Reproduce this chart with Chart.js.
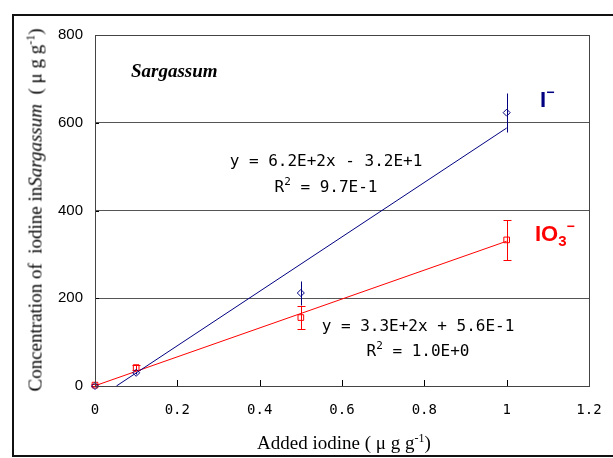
<!DOCTYPE html>
<html>
<head>
<meta charset="utf-8">
<script src="https://cdn.jsdelivr.net/npm/chart.js@4/dist/chart.umd.min.js"></script>
<style>
  html, body { margin: 0; padding: 0; background: #fff; }
  #wrap { position: relative; width: 613px; height: 458px; overflow: hidden; background: #fff; }
  #frame { position: absolute; left: 12px; top: 14px; width: 640px; height: 439px; border: 2px solid #111; }
  #box { position: absolute; left: 0; top: 0; width: 613px; height: 458px; }
  .t { position: absolute; white-space: nowrap; line-height: 1; color: #000; }
  .serif { font-family: 'Liberation Serif', 'DejaVu Serif', serif; font-size: 19px; }
  .eq { font-family: 'DejaVu Sans Mono', monospace; font-size: 16px; text-align: center; transform: translateX(-50%); }
  .eq .s { position: relative; top: -7px; font-size: 11px; }
  .ion { font-family: 'Liberation Sans', Arial, sans-serif; font-weight: bold; font-size: 22px; }
</style>
</head>
<body>
<div id="wrap">
  <div id="frame"></div>
  <div id="box"><canvas id="cIodine"></canvas></div>

  <div class="t serif" style="left:131px;top:61px;font-weight:bold;font-style:italic">Sargassum</div>

  <div class="t eq" style="left:326px;top:148px;line-height:26px">y = 6.2E+2x - 3.2E+1<br>R<span class="s">2</span> = 9.7E-1</div>
  <div class="t eq" style="left:418px;top:313px;line-height:25px">y = 3.3E+2x + 5.6E-1<br>R<span class="s">2</span> = 1.0E+0</div>

  <div class="t ion" style="left:540px;top:89px;color:#000080">I<span style="position:relative;top:-10px;font-size:14px">−</span></div>
  <div class="t ion" style="left:535px;top:223px;color:#ff0000">IO<span style="position:relative;top:5px;font-size:15px">3</span><span style="position:relative;top:-10px;font-size:14px">−</span></div>

  <div class="t serif" style="left:257px;top:433px">Added iodine ( μ g g<span style="position:relative;top:-7px;font-size:12px">-1</span>)</div>
  <div class="t serif" style="left:35px;top:210px;transform:translate(-50%,-50%) rotate(-90deg)">Concentration of&nbsp; iodine in<i>Sargassum</i>&nbsp; ( μ g g<span style="position:relative;top:-7px;font-size:12px">-1</span>)</div>
</div>

<script>
// added iodine (ug/g) and measured concentrations
const addedIodine = [0, 0.1, 0.5, 1];
const iodideConc  = [0, 30, 212, 623];
const iodideErr   = [0, 3, 27, 44];
const iodateConc  = [2, 42, 156, 333];
const iodateErr   = [2, 6, 27, 45];

// trendline ends
const iodideFitX = [0.052, 1];
const iodideFitY = [0, 588];
const iodateFitX = [0, 1];
const iodateFitY = [0.56, 330];

const xTickLabels = ['0', '0.2', '0.4', '0.6', '0.8', '1', '1.2'];
const yTickLabels = ['0', '200', '400', '600', '800'];

const NAVY = '#000080';
const RED  = '#ff0000';

const pts = (xs, ys) => xs.map((x, i) => ({ x, y: ys[i] }));

const extras = {
  id: 'extras',
  beforeDatasetsDraw(chart) {
    const { ctx, scales: { x, y } } = chart;
    ctx.save();
    ctx.lineWidth = 1;
    [[iodideConc, iodideErr, NAVY, 0], [iodateConc, iodateErr, RED, 4]].forEach(([vals, errs, color, cap]) => {
      ctx.strokeStyle = color;
      vals.forEach((v, i) => {
        if (!errs[i]) return;
        const px = Math.round(x.getPixelForValue(addedIodine[i])) + 0.5;
        const top = Math.round(y.getPixelForValue(v + errs[i])) + 0.5;
        const bot = Math.round(y.getPixelForValue(v - errs[i])) + 0.5;
        ctx.beginPath();
        ctx.moveTo(px, top); ctx.lineTo(px, bot);
        if (cap) {
          ctx.moveTo(px - cap, top); ctx.lineTo(px + cap, top);
          ctx.moveTo(px - cap, bot); ctx.lineTo(px + cap, bot);
        }
        ctx.stroke();
      });
    });
    ctx.restore();
  },
  afterDraw(chart) {
    const { ctx, chartArea: a, scales: { x, y } } = chart;
    ctx.save();
    ctx.strokeStyle = '#000';
    ctx.lineWidth = 1;
    ctx.beginPath();
    x.ticks.forEach(t => {
      const px = Math.round(x.getPixelForValue(t.value)) + 0.5;
      ctx.moveTo(px, a.bottom); ctx.lineTo(px, a.bottom - 6);
    });
    y.ticks.forEach(t => {
      const py = Math.round(y.getPixelForValue(t.value)) + 0.5;
      ctx.moveTo(a.left, py); ctx.lineTo(a.left + 4, py);
    });
    ctx.stroke();
    ctx.strokeStyle = '#444';
    ctx.strokeRect(Math.round(a.left) + 0.5, Math.round(a.top) + 0.5, Math.round(a.right - a.left), Math.round(a.bottom - a.top));
    ctx.restore();
  },
};

new Chart(document.getElementById('cIodine'), {
  type: 'scatter',
  data: {
    datasets: [
      { label: 'I-', data: pts(addedIodine, iodideConc), borderColor: NAVY, backgroundColor: 'transparent', pointStyle: 'rectRot', pointRadius: 3.5, pointBorderWidth: 1, clip: false },
      { label: 'IO3-', data: pts(addedIodine, iodateConc), borderColor: RED, backgroundColor: 'transparent', pointStyle: 'rect', pointRadius: 4, pointBorderWidth: 1, clip: false },
      { label: 'I- fit', data: pts(iodideFitX, iodideFitY), showLine: true, borderColor: NAVY, borderWidth: 1, pointRadius: 0 },
      { label: 'IO3- fit', data: pts(iodateFitX, iodateFitY), showLine: true, borderColor: RED, borderWidth: 1, pointRadius: 0 },
    ],
  },
  options: {
    responsive: true, maintainAspectRatio: false, animation: false,
    layout: { padding: { top: 35, right: 24, bottom: 0, left: 0 } },
    plugins: { legend: { display: false }, tooltip: { enabled: false } },
    scales: {
      x: {
        min: 0, max: 1.2,
        grid: { display: false },
        border: { display: true, color: '#000', width: 1 },
        ticks: { stepSize: 0.2, padding: 8, color: '#000', maxRotation: 0, font: { family: 'DejaVu Sans Mono', size: 14 }, callback: (v, i) => xTickLabels[i] },
        afterFit: s => { s.height = 72; },
      },
      y: {
        min: 0, max: 800,
        grid: { color: '#555', drawTicks: false },
        border: { display: true, color: '#000', width: 1 },
        ticks: { stepSize: 200, padding: 12, color: '#000', font: { family: 'Liberation Sans', size: 15 }, callback: (v, i) => yTickLabels[i] },
        afterFit: s => { s.width = 95; },
      },
    },
  },
  plugins: [extras],
});
</script>
</body>
</html>
